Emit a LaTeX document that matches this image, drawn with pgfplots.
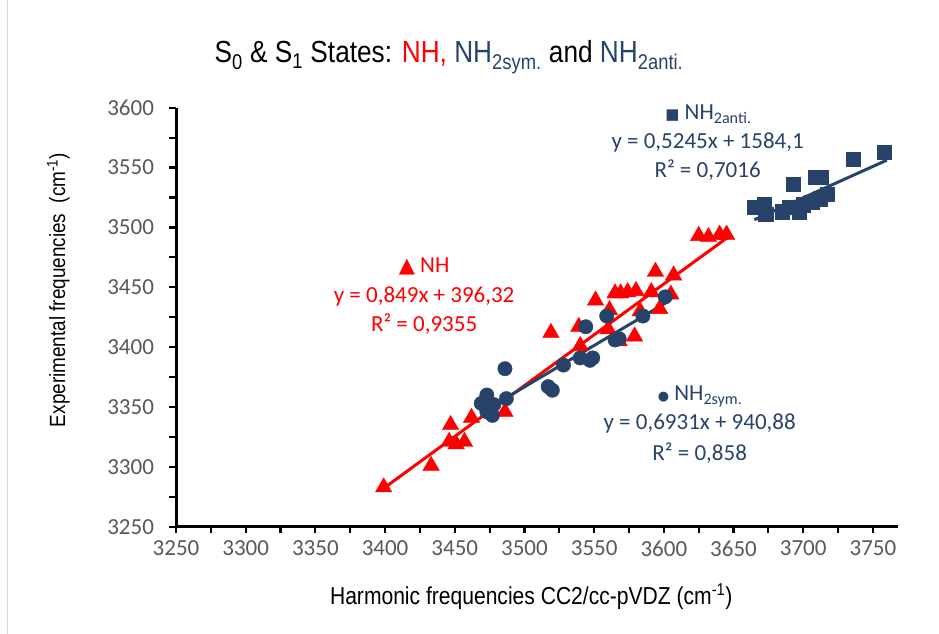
\documentclass[border=0pt]{standalone}
\usepackage{pgfplots}
\pgfplotsset{compat=1.18}
\usepackage{fontspec}
\setmainfont{Liberation Sans}
\newfontfamily\calibri{Carlito}
\newfontfamily\narrow[FakeStretch=0.86]{Liberation Sans}
\newfontfamily\symb{DejaVu Sans}
\definecolor{nhred}{HTML}{FF0000}
\definecolor{navy}{HTML}{27436A}
\definecolor{tickgray}{HTML}{595959}

% NH stretch (triangles)
\pgfplotstableread{
x y
3399 3283
3433 3301
3447 3335
3446 3321
3451 3319
3457 3321
3462 3341
3486 3346
3519 3412
3539 3417
3540 3401
3551 3439
3561 3431
3560 3415
3565 3445
3569 3445
3574 3446
3580 3447
3591 3446
3605 3444
3594 3463
3607 3460
3597 3432
3579 3409
3568 3405
3583 3430
3625 3493
3632 3492
3640 3494
3645 3494
}\nhdata

% NH2 symmetric (circles)
\pgfplotstableread{
x y
3473 3360
3473 3346
3469 3353
3477 3343
3478 3352
3487 3357
3486 3382
3517 3367
3520 3364
3528 3385
3540 3391
3547 3389
3549 3391
3544 3417
3559 3426
3565 3406
3568 3407
3585 3426
3601 3442
}\symdata

% NH2 antisymmetric (squares)
\pgfplotstableread{
x y
3665 3517
3672 3519
3673 3511
3685 3513
3690 3517
3697 3513
3700 3519
3706 3521
3709 3542
3713 3542
3717 3528
3712 3524
3693 3536
3736 3557
3758 3563
}\antidata

\begin{document}
\begin{tikzpicture}[x=1pt,y=1pt]
\useasboundingbox (0,0) rectangle (939,-634);
\draw[gray!30, line width=1pt] (7,0) -- (7,-634);

\node[font=\narrow\fontsize{30.5}{34}\selectfont, anchor=center] at (449,-57)
  {S\textsubscript{0} \& S\textsubscript{1} States: \textcolor{nhred}{NH,} \textcolor{navy}{NH\textsubscript{2sym.}} and \textcolor{navy}{NH\textsubscript{2anti.}}};

\begin{axis}[
  at={(176pt,-526.7pt)}, anchor=south west,
  scale only axis, width=722pt, height=419pt,
  xmin=3250, xmax=3768, ymin=3250, ymax=3600,
  xtick={3250,3300,...,3750}, ytick={3250,3300,...,3600},
  minor tick num=1,
  axis lines*=left,
  axis line style={line width=3pt, black},
  every tick/.style={line width=2.2pt, black},
  tick align=outside,
  major tick length=6.5pt, minor tick length=6.5pt,
  ticklabel style={font=\calibri\fontsize{23}{26}\selectfont, text=tickgray},
  /pgf/number format/.cd, 1000 sep={}, assume math mode=true, /pgfplots/.cd,
  yticklabel style={anchor=east, xshift=-12pt},
  xticklabel style={anchor=north, yshift=-4pt},
  xlabel={\narrow\fontsize{24.5}{28}\selectfont Harmonic frequencies CC2/cc-pVDZ (cm\textsuperscript{-1})},
  ylabel={\narrow\fontsize{22}{25}\selectfont Experimental frequencies\ \ (cm\textsuperscript{-1})},
  xlabel style={at={(axis description cs:0.492,-0.167)}, anchor=center},
  ylabel style={at={(axis description cs:-0.163,0.565)}, anchor=center, rotate=0},
  clip=false,
]
  \addplot[only marks, mark=triangle*, mark size=9.5pt, color=nhred] table {\nhdata};
  \addplot[only marks, mark=*, mark size=7.2pt, color=navy] table {\symdata};
  \addplot[only marks, mark=square*, mark size=7.2pt, color=navy] table {\antidata};

  % trend lines: end points from the fitted equations
  \addplot[nhred, line width=3pt] coordinates {(3399,3282.1) (3647,3492.7)};
  \addplot[navy, line width=3pt] coordinates {(3469,3345.3) (3603,3438.1)};
  \addplot[navy, line width=3pt] coordinates {(3665,3506.4) (3760,3556.2)};

  \begin{scope}[every node/.style={font=\calibri\fontsize{23}{27}\selectfont, anchor=center}]
    \node[text=nhred] at (axis cs:3428,3467.6) {{\symb\fontsize{21}{24}\selectfont ▲}\ NH};
    \node[text=nhred] at (axis cs:3428,3442.5) {y = 0,849x + 396,32};
    \node[text=nhred] at (axis cs:3428,3419.4) {R² = 0,9355};

    \node[text=navy] at (axis cs:3632,3594.5) {{\symb\fontsize{15}{18}\selectfont ■}\ NH\textsubscript{2anti.}};
    \node[text=navy] at (axis cs:3631.4,3570.8) {y = 0,5245x + 1584,1};
    \node[text=navy] at (axis cs:3631.4,3547.9) {R² = 0,7016};

    \node[text=navy] at (axis cs:3626,3358.8) {{\symb\fontsize{13}{15}\selectfont ●}\ NH\textsubscript{2sym.}};
    \node[text=navy] at (axis cs:3625.7,3335.9) {y = 0,6931x + 940,88};
    \node[text=navy] at (axis cs:3625.7,3311.4) {R² = 0,858};
  \end{scope}
\end{axis}
\end{tikzpicture}
\end{document}
